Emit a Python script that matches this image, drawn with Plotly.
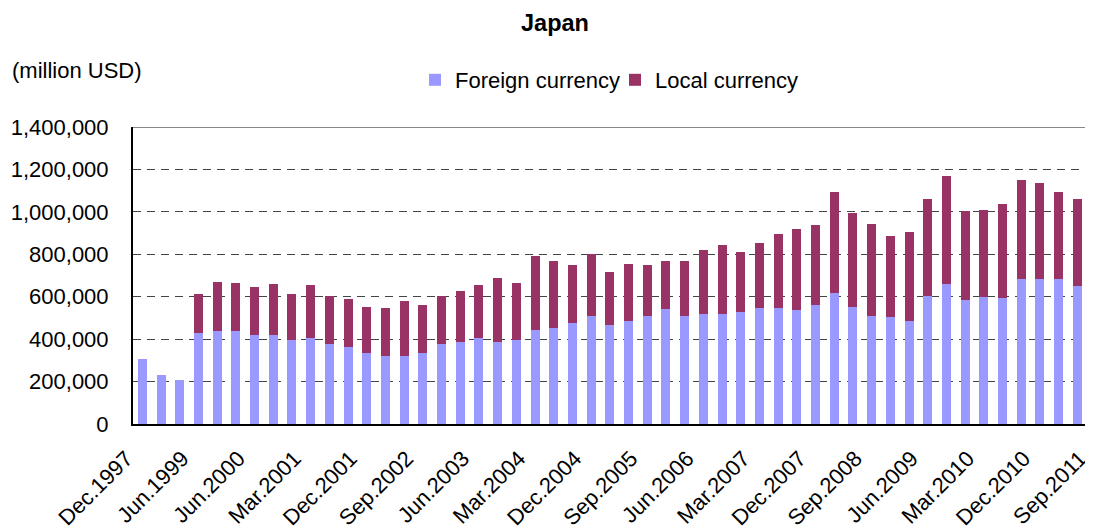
import plotly.graph_objects as go

categories = [
    "Dec.1997", "Jun.1998", "Dec.1998", "Jun.1999", "Dec.1999", "Mar.2000",
    "Jun.2000", "Sep.2000", "Dec.2000", "Mar.2001", "Jun.2001", "Sep.2001",
    "Dec.2001", "Mar.2002", "Jun.2002", "Sep.2002", "Dec.2002", "Mar.2003",
    "Jun.2003", "Sep.2003", "Dec.2003", "Mar.2004", "Jun.2004", "Sep.2004",
    "Dec.2004", "Mar.2005", "Jun.2005", "Sep.2005", "Dec.2005", "Mar.2006",
    "Jun.2006", "Sep.2006", "Dec.2006", "Mar.2007", "Jun.2007", "Sep.2007",
    "Dec.2007", "Mar.2008", "Jun.2008", "Sep.2008", "Dec.2008", "Mar.2009",
    "Jun.2009", "Sep.2009", "Dec.2009", "Mar.2010", "Jun.2010", "Sep.2010",
    "Dec.2010", "Mar.2011", "Jun.2011", "Sep.2011",
]

foreign_currency = [
    306000, 231000, 207000, 428000, 437000, 437000, 419000, 419000, 395000, 405000,
    376000, 362000, 334000, 320000, 320000, 334000, 376000, 386000, 405000, 386000,
    395000, 442000, 452000, 475000, 508000, 466000, 485000, 508000, 541000, 508000,
    518000, 518000, 527000, 546000, 546000, 536000, 560000, 616000, 551000, 508000,
    504000, 485000, 602000, 659000, 584000, 598000, 593000, 682000, 682000, 682000,
    649000, 682000,
]

total = [
    306000, 231000, 207000, 612000, 668000, 663000, 645000, 659000, 612000, 654000,
    602000, 588000, 551000, 546000, 579000, 560000, 602000, 626000, 654000, 687000,
    663000, 791000, 767000, 748000, 800000, 715000, 753000, 748000, 767000, 767000,
    819000, 842000, 809000, 852000, 894000, 918000, 936000, 1092000, 993000, 941000,
    885000, 904000, 1059000, 1167000, 1002000, 1007000, 1035000, 1148000, 1134000, 1092000,
    1059000, 1101000,
]

local_currency = [t - f for t, f in zip(total, foreign_currency)]

tick_labels = categories[::3]
y_ticks = [0, 200000, 400000, 600000, 800000, 1000000, 1200000, 1400000]

FONT = "Liberation Sans, Arial, sans-serif"
FS = 22
W, H = 1093, 529
ML, MT, MB = 125, 119, 113          # the page body adds an 8px offset
PW, PH = W - ML, H - MT - MB        # plot area size in pixels
X_RANGE = [-0.5, -0.5 + PW / 18.7]  # 18.7 px per category


def px_x(page_x):
    return (page_x - 8 - ML) / PW


def px_y(page_y):
    return (H - MB - (page_y - 8)) / PH


fig = go.Figure()
fig.add_trace(go.Bar(x=categories, y=foreign_currency, name="Foreign currency",
                     marker=dict(color="#9999FF", line=dict(width=0)), legend="legend"))
fig.add_trace(go.Bar(x=categories, y=local_currency, name="Local currency",
                     marker=dict(color="#993366", line=dict(width=0)), legend="legend2"))

legend_common = dict(orientation="h", yanchor="middle", y=px_y(80), xanchor="left",
                     font=dict(size=FS), itemwidth=30, bgcolor="rgba(0,0,0,0)",
                     borderwidth=0)

fig.update_layout(
    barmode="stack",
    bargap=0.52,
    width=W, height=H,
    margin=dict(l=ML, r=0, t=MT, b=MB, autoexpand=False),
    paper_bgcolor="white", plot_bgcolor="white",
    font=dict(family=FONT, size=FS, color="black"),
    title=dict(text="<b>Japan</b>", x=(555 - 8) / W, xanchor="center", xref="container",
               y=1 - (23 - 8) / H, yanchor="middle", yref="container",
               font=dict(size=23.5)),
    legend=dict(x=px_x(455 - 40), **legend_common),
    legend2=dict(x=px_x(655 - 40), **legend_common),
    showlegend=True,
)

fig.update_xaxes(
    type="category",
    range=X_RANGE,
    automargin=False,
    tickmode="array", tickvals=tick_labels, ticktext=tick_labels,
    tickangle=-45, tickfont=dict(size=FS),
    showline=True, linecolor="black", linewidth=2,
    showgrid=False, ticks="", ticklabelstandoff=11,
    ticklabelshift=-16,
)

fig.update_yaxes(
    range=[0, 1400000],
    automargin=False,
    tickmode="array", tickvals=y_ticks, tickformat=",d",
    showline=True, linecolor="black", linewidth=2,
    showgrid=True, gridcolor="#444444", griddash="8px,6px", gridwidth=1,
    zeroline=False, ticks="", ticklabelstandoff=18, tickfont=dict(size=FS),
)

# top border of plot area
fig.add_shape(type="line", xref="paper", yref="y", x0=0, x1=1,
              y0=1400000, y1=1400000, line=dict(color="#888888", width=2))

fig.add_annotation(text="(million USD)", xref="paper", yref="paper",
                   x=px_x(10), xanchor="left", y=px_y(70),
                   yanchor="middle", showarrow=False, font=dict(size=FS))

fig.write_html("out.html")
